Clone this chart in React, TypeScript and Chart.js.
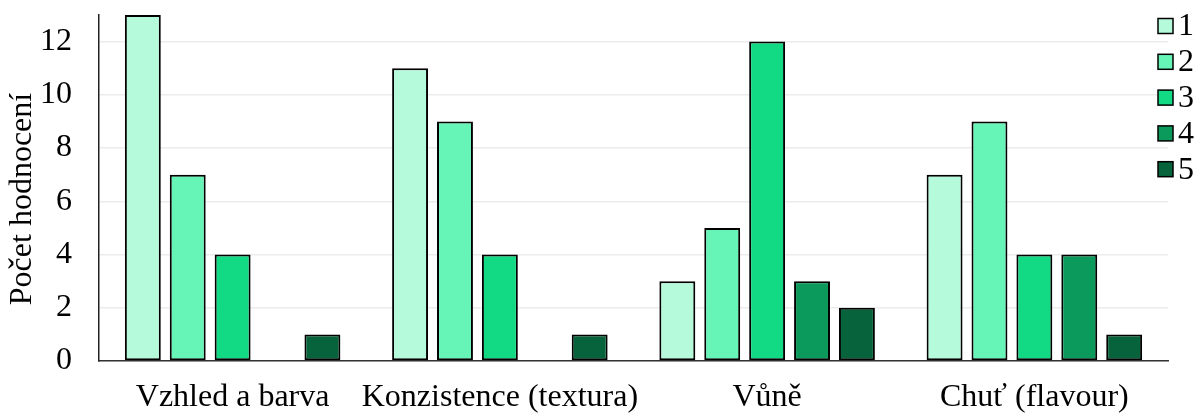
import React, { useEffect, useRef } from "react";
import { Chart, registerables } from "chart.js";

Chart.register(...registerables);

const categories = ["Vzhled a barva", "Konzistence (textura)", "Vůně", "Chuť (flavour)"];
const seriesLabels = ["1", "2", "3", "4", "5"];
const series1 = [13, 11, 3, 7];
const series2 = [7, 9, 5, 9];
const series3 = [4, 4, 12, 4];
const series4 = [0, 0, 3, 4];
const series5 = [1, 1, 2, 1];
const colors = ["#b4fadb", "#66f5b6", "#12da84", "#0c9a5c", "#06633b"];
const yTitle = "Počet hodnocení";

const FONT = "'Liberation Serif', 'Times New Roman', serif";
const FS = 32;

const overlayPlugin = {
  id: "overlay",
  afterDraw(chart: any) {
    const ctx = chart.ctx;
    ctx.save();
    // legend
    ctx.font = `${FS}px ${FONT}`;
    ctx.textBaseline = "middle";
    ctx.textAlign = "left";
    const x = 1158;
    const y0 = 26;
    const step = 35.8;
    const bs = 15;
    chart.data.datasets.forEach((ds: any, i: number) => {
      const cy = y0 + i * step;
      ctx.fillStyle = ds.backgroundColor;
      ctx.fillRect(x, cy - bs / 2, bs, bs);
      ctx.lineWidth = 1.5;
      ctx.strokeStyle = "#000";
      ctx.strokeRect(x, cy - bs / 2, bs, bs);
      ctx.fillStyle = "#000";
      ctx.fillText(ds.label, x + bs + 5, cy + 1);
    });
    // y axis title
    ctx.translate(23, 199);
    ctx.rotate(-Math.PI / 2);
    ctx.textAlign = "center";
    ctx.textBaseline = "middle";
    ctx.fillStyle = "#000";
    ctx.fillText(yTitle, 0, 0);
    ctx.restore();
  },
};

export default function App() {
  const ref = useRef<HTMLCanvasElement | null>(null);
  useEffect(() => {
    if (!ref.current) return;
    const data = [series1, series2, series3, series4, series5];
    const chart = new Chart(ref.current, {
      type: "bar",
      data: {
        labels: categories,
        datasets: data.map((d, i) => ({
          label: seriesLabels[i],
          data: d,
          backgroundColor: colors[i],
          borderColor: "#000",
          borderWidth: (c: any) => (c.raw === 0 ? 0 : 2),
          borderSkipped: false,
          categoryPercentage: 0.84,
          barPercentage: 0.8,
        })),
      },
      options: {
        animation: false,
        responsive: false,
        maintainAspectRatio: false,
        layout: { padding: { top: 15, right: 30, left: 0, bottom: 0 } },
        plugins: {
          legend: { display: false },
          tooltip: { enabled: false },
        },
        scales: {
          x: {
            grid: { display: false, drawTicks: false },
            border: { display: true, color: "#333", width: 1.5 },
            ticks: {
              color: "#000",
              font: { family: FONT, size: FS },
              padding: 17,
              maxRotation: 0,
              autoSkip: false,
            },
            afterFit: (scale: any) => {
              scale.height = 53;
              scale.paddingLeft = 0;
              scale.paddingRight = 0;
              scale.paddingTop = 0;
              scale.paddingBottom = 0;
            },
          },
          y: {
            min: 0,
            max: 13,
            grid: { color: "#ececec", lineWidth: 1.5, drawTicks: false },
            border: { display: true, color: "#222", width: 1.5 },
            ticks: {
              stepSize: 2,
              includeBounds: false,
              color: "#000",
              font: { family: FONT, size: FS },
              padding: 27,
            },
            afterBuildTicks: (scale: any) => {
              scale.ticks = scale.ticks.filter((t: any) => t.value % 2 === 0);
            },
            afterFit: (scale: any) => {
              scale.width = 99;
              scale.paddingLeft = 0;
              scale.paddingRight = 0;
              scale.paddingTop = 0;
              scale.paddingBottom = 0;
            },
          },
        },
      },
      plugins: [overlayPlugin],
    });
    return () => chart.destroy();
  }, []);
  return (
    <div style={{ position: "absolute", left: 0, top: 0, width: 1198, height: 414 }}>
      <canvas ref={ref} width={1198} height={414} style={{ width: 1198, height: 414, display: "block" }} />
    </div>
  );
}
